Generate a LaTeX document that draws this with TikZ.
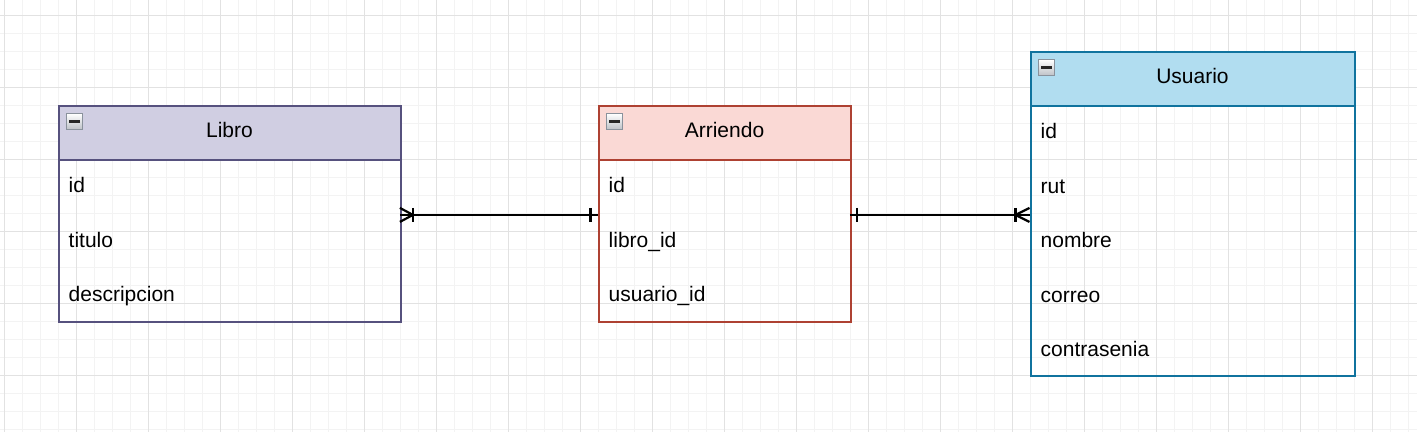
\documentclass[tikz,border=0pt]{standalone}
\usepackage{fontspec}
\setmainfont{Liberation Sans}
\usetikzlibrary{calc}
\definecolor{gridminor}{HTML}{F3F3F3}
\definecolor{gridmajor}{HTML}{E2E2E2}
\definecolor{libroF}{HTML}{D0CEE2}
\definecolor{libroS}{HTML}{56517E}
\definecolor{arrF}{HTML}{FAD9D5}
\definecolor{arrS}{HTML}{AE4132}
\definecolor{usuF}{HTML}{B1DDF0}
\definecolor{usuS}{HTML}{10739E}
\definecolor{iconS}{HTML}{8A929C}
\definecolor{iconB}{HTML}{BFC3C8}
\tikzset{
  tblbox/.style={draw, line width=2pt, anchor=north west, minimum height=#1, inner sep=0pt},
  hdr/.style={draw, line width=2pt, anchor=north west, minimum height=54pt, inner sep=0pt,
    text height=15pt, text depth=4.5pt, font=\fontsize{21}{25}\selectfont},
  rowtxt/.style={anchor=north west, text width=#1, inner xsep=11pt, inner ysep=0pt, align=left,
    text height=15pt, text depth=4.5pt,
    minimum height=54pt, font=\fontsize{21}{25}\selectfont},
  conn/.style={line width=2.2pt, black},
  icon/.style={draw=iconS, line width=1.3pt, top color=white, bottom color=iconB, anchor=north west,
    minimum width=15.5pt, minimum height=15.5pt, inner sep=0pt},
  minus/.style={line width=2.6pt, black!85},
}
\begin{document}
\begin{tikzpicture}[x=1pt,y=-1pt]
\useasboundingbox (0,0) rectangle (1417,432);
\fill[white] (0,0) rectangle (1417,432);
% grid
\foreach \gx in {4,22,...,1417} \draw[gridminor, line width=1pt] (\gx,0) -- (\gx,432);
\foreach \gy in {15,33,...,432} \draw[gridminor, line width=1pt] (0,\gy) -- (1417,\gy);
\foreach \gx in {4,76,...,1417} \draw[gridmajor, line width=1pt] (\gx,0) -- (\gx,432);
\foreach \gy in {15,87,...,432} \draw[gridmajor, line width=1pt] (0,\gy) -- (1417,\gy);

% Libro
\node[tblbox=216pt, draw=libroS, minimum width=342pt] (libro) at (57.5,104.5) {};
\node[hdr, fill=libroF, draw=libroS, minimum width=342pt] (libroH) at (libro.north west) {Libro};
\node[icon] (libroI) at ($(libroH.north west)+(8.5,8.5)$) {};
\draw[minus] ($(libroI.west)+(3,0)$) -- ($(libroI.east)+(-3,0)$);
\node[rowtxt=320pt] (libroR1) at (libroH.south west) {id};
\node[rowtxt=320pt] (libroR2) at (libroR1.south west) {titulo};
\node[rowtxt=320pt] (libroR3) at (libroR2.south west) {descripcion};

% Arriendo
\node[tblbox=216pt, draw=arrS, minimum width=252pt] (arr) at (597.5,104.5) {};
\node[hdr, fill=arrF, draw=arrS, minimum width=252pt] (arrH) at (arr.north west) {Arriendo};
\node[icon] (arrI) at ($(arrH.north west)+(8.5,8.5)$) {};
\draw[minus] ($(arrI.west)+(3,0)$) -- ($(arrI.east)+(-3,0)$);
\node[rowtxt=230pt] (arrR1) at (arrH.south west) {id};
\node[rowtxt=230pt] (arrR2) at (arrR1.south west) {libro\_id};
\node[rowtxt=230pt] (arrR3) at (arrR2.south west) {usuario\_id};

% Usuario
\node[tblbox=324pt, draw=usuS, minimum width=324pt] (usu) at (1029.5,50.5) {};
\node[hdr, fill=usuF, draw=usuS, minimum width=324pt] (usuH) at (usu.north west) {Usuario};
\node[icon] (usuI) at ($(usuH.north west)+(8.5,8.5)$) {};
\draw[minus] ($(usuI.west)+(3,0)$) -- ($(usuI.east)+(-3,0)$);
\node[rowtxt=302pt] (usuR1) at (usuH.south west) {id};
\node[rowtxt=302pt] (usuR2) at (usuR1.south west) {rut};
\node[rowtxt=302pt] (usuR3) at (usuR2.south west) {nombre};
\node[rowtxt=302pt] (usuR4) at (usuR3.south west) {correo};
\node[rowtxt=302pt] (usuR5) at (usuR4.south west) {contrasenia};

% connector end points
\coordinate (cA) at (libroR1.south east);
\coordinate (cB) at (arrR1.south west);
\coordinate (cC) at (arrR1.south east);
\coordinate (cD) at (arrR1.south east -| usu.west);

% connector Libro -- Arriendo
\draw[conn] (cA) -- (cB);
\draw[conn] ($(cA)+(0,-7)$) -- ($(cA)+(13,0)$) -- ($(cA)+(0,7)$);
\draw[conn] ($(cA)+(13,-7)$) -- ($(cA)+(13,7)$);
\draw[conn] ($(cB)+(-7,-7)$) -- ($(cB)+(-7,7)$);

% connector Arriendo -- Usuario
\draw[conn] (cC) -- (cD);
\draw[conn] ($(cC)+(7,-7)$) -- ($(cC)+(7,7)$);
\draw[conn] ($(cD)+(0,-7)$) -- ($(cD)+(-14,0)$) -- ($(cD)+(0,7)$);
\draw[conn] ($(cD)+(-14,-7)$) -- ($(cD)+(-14,7)$);
\end{tikzpicture}
\end{document}
